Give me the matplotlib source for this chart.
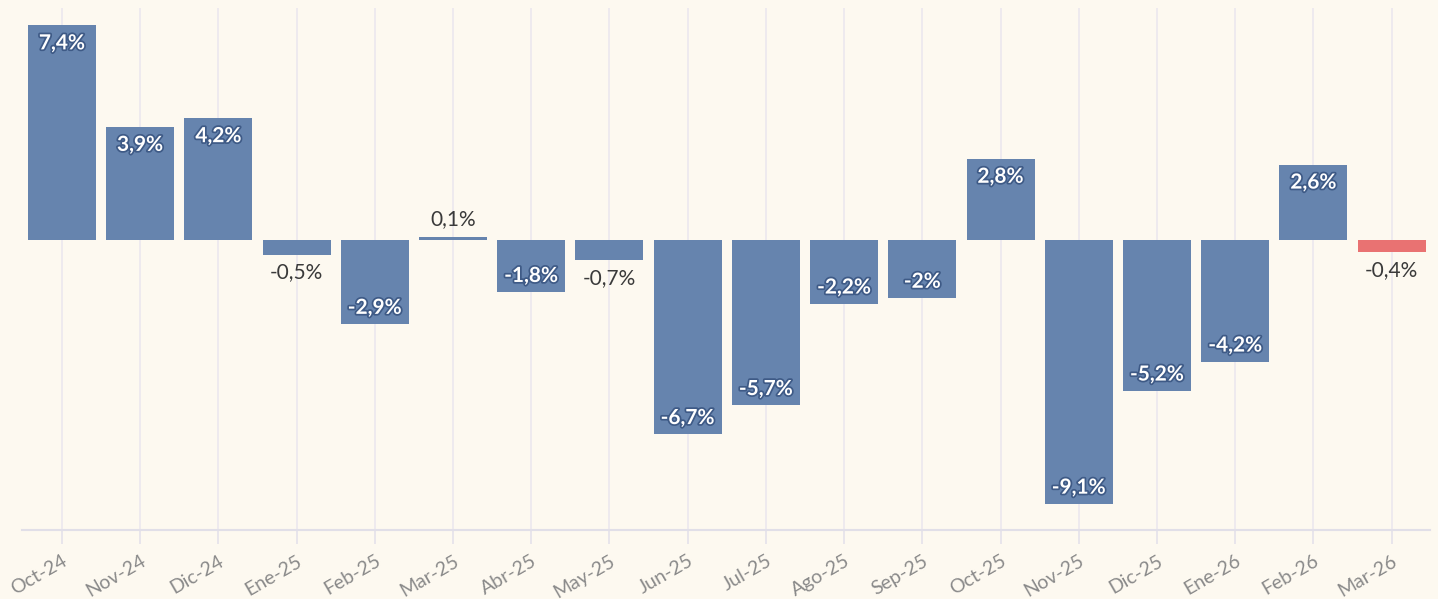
import matplotlib.pyplot as plt
import matplotlib.patheffects as pe

months = ["Oct-24", "Nov-24", "Dic-24", "Ene-25", "Feb-25", "Mar-25", "Abr-25", "May-25",
          "Jun-25", "Jul-25", "Ago-25", "Sep-25", "Oct-25", "Nov-25", "Dic-25", "Ene-26",
          "Feb-26", "Mar-26"]
values = [7.4, 3.9, 4.2, -0.5, -2.9, 0.1, -1.8, -0.7, -6.7, -5.7, -2.2, -2.0, 2.8, -9.1,
          -5.2, -4.2, 2.6, -0.4]
labels = ["7,4%", "3,9%", "4,2%", "-0,5%", "-2,9%", "0,1%", "-1,8%", "-0,7%", "-6,7%",
          "-5,7%", "-2,2%", "-2%", "2,8%", "-9,1%", "-5,2%", "-4,2%", "2,6%", "-0,4%"]

bg = "#fdf9f0"
blue = "#6684ae"
red = "#e97272"
colors = [blue] * (len(values) - 1) + [red]

plt.rcParams['font.family'] = ['Lato', 'DejaVu Sans']

fig = plt.figure(figsize=(14.38, 5.99), dpi=100, facecolor=bg)
ax = fig.add_axes([22 / 1438, 69 / 599, 1408 / 1438, 522 / 599], facecolor=bg)

x = list(range(len(values)))
ax.bar(x, values, width=0.87, color=colors, zorder=2)

ax.set_xlim(-0.51, 17.49)
ax.set_ylim(-10.0, 8.0)

# vertical grid lines at each month
ax.set_xticks(x)
ax.set_xticklabels(months, rotation=30, ha="right", rotation_mode="anchor",
                   fontsize=14, color="#8a8a8a")
ax.xaxis.grid(True, color="#ebe8ee", linewidth=1.2, zorder=0)
ax.tick_params(axis="x", length=10, width=1.2, color="#e4e2ea", pad=6)
ax.set_yticks([])
for s in ["top", "left", "right"]:
    ax.spines[s].set_visible(False)
ax.spines["bottom"].set_color("#e1dfe8")
ax.spines["bottom"].set_linewidth(1.5)

# value labels
stroke = [pe.withStroke(linewidth=2.5, foreground="#3e5a86")]
pt = 18.0 / 28.9  # ~18 px in data units
for xi, v, lab in zip(x, values, labels):
    if abs(v) < 1:
        if v >= 0:
            ax.text(xi, v + pt, lab, ha="center", va="center", fontsize=15,
                    color="#3a3a3a", zorder=3)
        else:
            ax.text(xi, v - pt, lab, ha="center", va="center", fontsize=15,
                    color="#3a3a3a", zorder=3)
    else:
        if v > 0:
            y = v - 0.62
        else:
            y = v + 0.56
        ax.text(xi, y, lab, ha="center", va="center", fontsize=15, fontweight="bold",
                color="white", path_effects=stroke, zorder=3)

fig.savefig("out.png", dpi=100, facecolor=bg)
